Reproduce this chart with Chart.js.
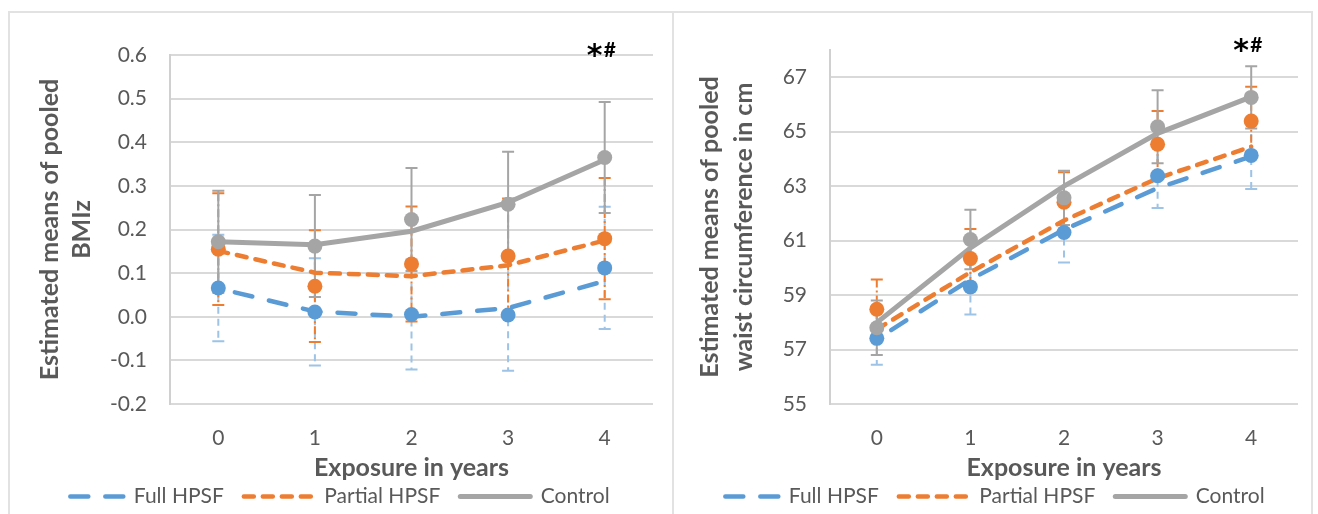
<!DOCTYPE html>
<html>
<head>
<meta charset="utf-8">
<script src="https://cdn.jsdelivr.net/npm/chart.js@4.4.1/dist/chart.umd.min.js"></script>
<style>
html,body{margin:0;padding:0;background:#fff;overflow:hidden;}
body{width:1318px;height:514px;position:relative;}
#frame{position:absolute;left:8px;top:11px;width:1301px;height:540px;border:2px solid #E2E2E2;}
#divider{position:absolute;left:672px;top:11px;width:2px;height:540px;background:#E2E2E2;}
.box{position:absolute;top:13px;height:522px;}
#left{left:10px;width:662px;}
#right{left:675px;width:637px;}
</style>
</head>
<body>
<div id="frame"></div>
<div id="divider"></div>
<div class="box" id="left"><canvas id="bmiChart" width="662" height="522"></canvas></div>
<div class="box" id="right"><canvas id="waistChart" width="637" height="522"></canvas></div>
<script>
const years = ['0', '1', '2', '3', '4'];

// BMIz panel
const bmiTicks = [-0.2, -0.1, 0, 0.1, 0.2, 0.3, 0.4, 0.5, 0.6];
const bmiFull = [0.066, 0.011, 0.005, 0.004, 0.112];
const bmiFullErr = [0.122, 0.123, 0.126, 0.128, 0.14];
const bmiPartial = [0.155, 0.07, 0.121, 0.139, 0.179];
const bmiPartialErr = [0.128, 0.128, 0.132, 0.132, 0.139];
const bmiControl = [0.172, 0.162, 0.223, 0.258, 0.365];
const bmiControlErr = [0.117, 0.117, 0.118, 0.12, 0.127];
const bmiFullTrend = [0.065, 0.012, 0.0, 0.02, 0.082];
const bmiPartialTrend = [0.151, 0.101, 0.093, 0.118, 0.175];
const bmiControlTrend = [0.172, 0.165, 0.196, 0.262, 0.36];

// waist panel
const waistTicks = [55, 57, 59, 61, 63, 65, 67];
const waistFull = [57.41, 59.3, 61.3, 63.38, 64.13];
const waistFullErr = [0.97, 1.01, 1.1, 1.18, 1.23];
const waistPartial = [58.48, 60.34, 62.41, 64.54, 65.39];
const waistPartialErr = [1.09, 1.09, 1.1, 1.22, 1.26];
const waistControl = [57.8, 61.04, 62.57, 65.18, 66.26];
const waistControlErr = [1.0, 1.09, 1.0, 1.34, 1.14];
const waistFullTrend = [57.38, 59.57, 61.4, 62.93, 64.09];
const waistPartialTrend = [57.74, 59.84, 61.74, 63.29, 64.45];
const waistControlTrend = [57.99, 60.73, 63.0, 64.94, 66.28];

const blue = '#5B9BD5', orange = '#ED7D31', grey = '#A5A5A5', txt = '#595959';

// vertical error bars, drawn under the markers
const errorBars = {
  id: 'errorBars',
  beforeDatasetsDraw(chart) {
    const ctx = chart.ctx;
    const y = chart.scales.y;
    chart.data.datasets.forEach((ds, i) => {
      if (!ds.errors) return;
      const meta = chart.getDatasetMeta(i);
      ctx.save();
      ctx.strokeStyle = ds.errorColor;
      ctx.lineWidth = ds.errorWidth;
      meta.data.forEach((pt, j) => {
        const top = y.getPixelForValue(ds.data[j] + ds.errors[j]);
        const bot = y.getPixelForValue(ds.data[j] - ds.errors[j]);
        ctx.setLineDash(ds.errorDash);
        ctx.beginPath();
        ctx.moveTo(pt.x, top);
        ctx.lineTo(pt.x, bot);
        ctx.stroke();
        ctx.setLineDash([]);
        ctx.beginPath();
        ctx.moveTo(pt.x - 6, top); ctx.lineTo(pt.x + 6, top);
        ctx.moveTo(pt.x - 6, bot); ctx.lineTo(pt.x + 6, bot);
        ctx.stroke();
      });
      ctx.restore();
    });
  }
};

// "*#" mark over the last year
const signif = {
  id: 'signif',
  afterDraw(chart) {
    const ctx = chart.ctx;
    const x = chart.scales.x.getPixelForValue(4);
    const base = chart.chartArea.top + 2;
    ctx.save();
    ctx.fillStyle = '#000';
    ctx.textBaseline = 'alphabetic';
    ctx.font = 'bold 30px "DejaVu Sans"';
    ctx.textAlign = 'center';
    ctx.fillText('*', x - 10, base + 8);
    ctx.font = 'bold 21px Lato';
    ctx.textAlign = 'left';
    ctx.fillText('#', x - 1, base);
    ctx.restore();
  }
};

function legendItems(chart) {
  return Chart.defaults.plugins.legend.labels.generateLabels(chart).map(item => {
    const ds = chart.data.datasets[item.datasetIndex];
    item.lineDash = ds.borderDash || [];
    item.lineDashOffset = ds.borderDashOffset || 0;
    item.lineCap = 'round';
    item.strokeStyle = ds.borderColor;
    item.lineWidth = ds.borderWidth;
    return item;
  });
}

function makeChart(id, s) {
  const datasets = [
    {label: 'Full HPSF', data: s.fullTrend, borderColor: blue, borderWidth: 4.5, borderDash: [18, 17], borderDashOffset: 18,
     borderCapStyle: 'round', pointRadius: 0, tension: 0, isTrend: true, order: 5},
    {label: 'Partial HPSF', data: s.partialTrend, borderColor: orange, borderWidth: 4.5, borderDash: [10, 9],
     borderCapStyle: 'round', pointRadius: 0, tension: 0, isTrend: true, order: 6},
    {label: 'Control', data: s.controlTrend, borderColor: grey, borderWidth: 5,
     borderCapStyle: 'round', pointRadius: 0, tension: 0, isTrend: true, order: 7},
    {label: 'Full HPSF', data: s.full, errors: s.fullErr, errorColor: '#9DC3E6', errorWidth: 2, errorDash: [7, 5],
     showLine: false, pointRadius: 7.5, pointHoverRadius: 7.5, backgroundColor: blue, borderColor: blue, pointBorderWidth: 0, order: 3},
    {label: 'Partial HPSF', data: s.partial, errors: s.partialErr, errorColor: orange, errorWidth: 2, errorDash: [8, 3, 2, 3],
     showLine: false, pointRadius: 7.5, pointHoverRadius: 7.5, backgroundColor: orange, borderColor: orange, pointBorderWidth: 0, order: 2},
    {label: 'Control', data: s.control, errors: s.controlErr, errorColor: grey, errorWidth: 2, errorDash: [],
     showLine: false, pointRadius: 7.5, pointHoverRadius: 7.5, backgroundColor: grey, borderColor: grey, pointBorderWidth: 0, order: 1}
  ];
  return new Chart(document.getElementById(id), {
    type: 'line',
    data: {labels: years, datasets: datasets},
    plugins: [errorBars, signif],
    options: {
      responsive: false,
      animation: false,
      layout: {padding: {top: s.padTop, right: s.padRight, bottom: 18, left: 0}},
      plugins: {
        tooltip: {enabled: false},
        legend: {
          position: 'bottom',
          labels: {
            usePointStyle: true, pointStyle: 'line', pointStyleWidth: 70,
            color: txt, font: {family: 'Lato', size: 21}, padding: 20,
            generateLabels: legendItems,
            filter: (item, data) => data.datasets[item.datasetIndex].isTrend
          }
        }
      },
      scales: {
        x: {
          offset: true,
          grid: {display: false},
          border: {display: false},
          ticks: {color: txt, font: {family: 'Lato', size: 21}, padding: 14},
          title: {display: true, text: 'Exposure in years', color: txt,
                  font: {family: 'Lato', size: 25, weight: 'bold'}, padding: {top: 0, bottom: -17}},
          afterFit: sc => { sc.height = 62; }
        },
        y: {
          min: s.min, max: s.max,
          afterBuildTicks: sc => { sc.ticks = s.ticks.map(v => ({value: v})); },
          grid: {color: '#D9D9D9', lineWidth: 2, drawTicks: false},
          border: {display: true, color: '#D0D0D0', width: 2},
          ticks: {color: txt, font: {family: 'Lato', size: 21}, padding: 23, callback: s.fmt},
          title: {display: true, text: s.title, color: txt,
                  font: {family: 'Lato', size: 25, weight: 'bold', lineHeight: s.titleLine + 'px'},
                  padding: {top: s.titlePad, bottom: 0}},
          afterFit: sc => { sc.width = s.axisW; }
        }
      }
    }
  });
}

makeChart('bmiChart', {
  full: bmiFull, fullErr: bmiFullErr, partial: bmiPartial, partialErr: bmiPartialErr,
  control: bmiControl, controlErr: bmiControlErr,
  fullTrend: bmiFullTrend, partialTrend: bmiPartialTrend, controlTrend: bmiControlTrend,
  ticks: bmiTicks, min: -0.2, max: 0.6, fmt: v => Number(v).toFixed(1),
  title: ['Estimated means of pooled', 'BMIz'], titleLine: 32, titlePad: 24,
  axisW: 160, padTop: 42, padRight: 19
});

makeChart('waistChart', {
  full: waistFull, fullErr: waistFullErr, partial: waistPartial, partialErr: waistPartialErr,
  control: waistControl, controlErr: waistControlErr,
  fullTrend: waistFullTrend, partialTrend: waistPartialTrend, controlTrend: waistControlTrend,
  ticks: waistTicks, min: 55, max: 68, fmt: v => String(v),
  title: ['Estimated means of pooled', 'waist circumference in cm'], titleLine: 34, titlePad: 18,
  axisW: 155, padTop: 37, padRight: 14
});
</script>
</body>
</html>
